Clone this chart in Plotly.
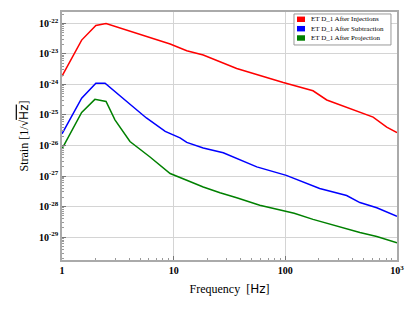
import plotly.graph_objects as go

# Frequency / strain (log10 of strain)
freq_inj = [1.0, 1.5, 2.01, 2.48, 9.3, 13.1, 18.4, 36.7, 95.8, 177, 235, 404, 611, 809, 1000]
logh_inj = [-23.73, -22.55, -22.07, -22.01, -22.68, -22.90, -23.04, -23.48, -23.94, -24.21, -24.51, -24.83, -25.07, -25.40, -25.58]

freq_sub = [1.0, 1.5, 2.01, 2.43, 3.8, 5.7, 8.4, 11.4, 13.1, 18.4, 27.8, 36.7, 55.5, 102, 203, 354, 465, 659, 1000]
logh_sub = [-25.62, -24.45, -23.96, -23.96, -24.56, -25.10, -25.54, -25.75, -25.90, -26.08, -26.24, -26.43, -26.70, -26.98, -27.41, -27.64, -27.87, -28.04, -28.32]

freq_proj = [1.0, 1.5, 1.97, 2.48, 2.98, 4.06, 6.1, 9.3, 13.1, 18.4, 26, 36.7, 59, 95.8, 120, 177, 287, 465, 659, 1000]
logh_proj = [-26.11, -24.92, -24.49, -24.56, -25.16, -25.87, -26.37, -26.92, -27.14, -27.36, -27.55, -27.71, -27.96, -28.15, -28.22, -28.42, -28.64, -28.85, -28.98, -29.19]

names = ["ET D_1 After Injections", "ET D_1 After Subtraction", "ET D_1 After Projection"]
colors = ["#ff0000", "#0000ff", "#008000"]

x_tickvals = [1, 10, 100, 1000]
x_ticktext = ["<b>1</b>", "<b>10</b>", "<b>100</b>", "<b>10<sup>3</sup></b>"]
y_exps = [-22, -23, -24, -25, -26, -27, -28, -29]

fig = go.Figure()
series = [(freq_inj, logh_inj), (freq_sub, logh_sub), (freq_proj, logh_proj)]
for (f, lh), n, c in zip(series, names, colors):
    fig.add_trace(go.Scatter(x=f, y=[10 ** v for v in lh], mode="lines",
                             line=dict(color=c, width=1.5), showlegend=False, name=n))

serif = "Liberation Serif, Times New Roman, serif"

# manual compact legend (paper coordinates)
shapes = [dict(type="rect", xref="paper", yref="paper", x0=0.6925, x1=0.982, y0=0.867, y1=0.992,
               line=dict(color="#999999", width=1), fillcolor="white", layer="above")]
annotations = []
row_y = [0.9706, 0.9327, 0.8952]
for ry, n, c in zip(row_y, names, colors):
    shapes.append(dict(type="rect", xref="paper", yref="paper", x0=0.7015, x1=0.7254,
                       y0=ry - 0.011, y1=ry + 0.011, line=dict(width=0), fillcolor=c, layer="above"))
    annotations.append(dict(xref="paper", yref="paper", x=0.738, y=ry, xanchor="left", yanchor="middle",
                            text=n, showarrow=False, font=dict(size=7, family=serif, color="black")))

fig.update_layout(
    width=415, height=312,
    margin=dict(l=62, r=18, t=12, b=52),
    paper_bgcolor="white", plot_bgcolor="white",
    font=dict(family=serif, color="black"),
    showlegend=False,
    shapes=shapes, annotations=annotations,
)
fig.update_xaxes(
    type="log", range=[0, 3], automargin=False,
    tickvals=x_tickvals, ticktext=x_ticktext,
    tickfont=dict(size=10, family=serif, color="black"),
    ticks="inside", ticklen=4, tickcolor="#777777",
    minor=dict(ticks="inside", ticklen=2, tickcolor="#999999", showgrid=False, dtick="D1"),
    showgrid=True, gridcolor="#d4d4d4", gridwidth=1,
    showline=True, linecolor="#aaaaaa", linewidth=1.5, mirror=True,
    title=dict(text="Frequency  [<span style='font-family:DejaVu Sans'>Hz</span>]",
               font=dict(size=12, family=serif), standoff=10),
    zeroline=False,
)
fig.update_yaxes(
    type="log", range=[-29.75, -21.63], automargin=False,
    tickvals=[10 ** e for e in y_exps],
    ticktext=["<b>10<sup>%d</sup></b>" % e for e in y_exps],
    tickfont=dict(size=10, family=serif, color="black"),
    ticks="inside", ticklen=4, tickcolor="#777777",
    minor=dict(ticks="inside", ticklen=2, tickcolor="#999999", showgrid=False, dtick="D1"),
    showgrid=True, gridcolor="#d4d4d4", gridwidth=1,
    showline=True, linecolor="#aaaaaa", linewidth=1.5, mirror=True,
    title=dict(text="Strain [1/√<span style='font-family:DejaVu Sans;text-decoration:overline'>Hz</span>]",
               font=dict(size=12, family=serif), standoff=8),
    zeroline=False,
)

fig.write_html("out.html", config={"displayModeBar": False},
               post_script="document.body.style.margin='0';document.body.style.padding='0';")
